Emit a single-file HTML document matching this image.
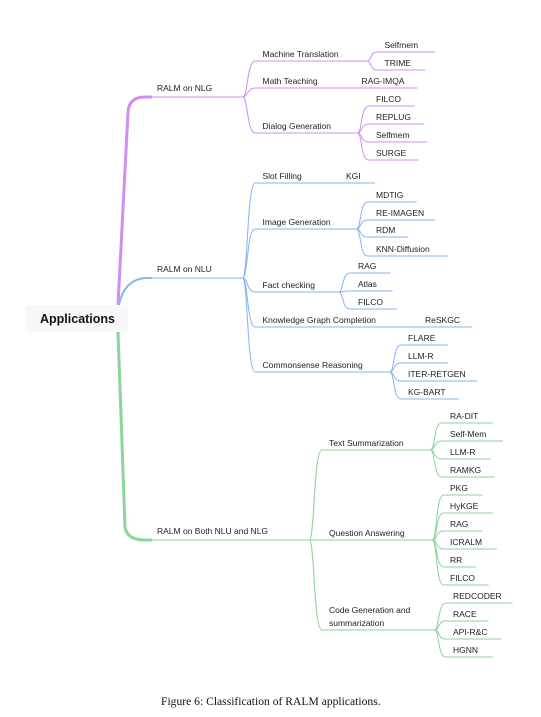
<!DOCTYPE html>
<html><head><meta charset="utf-8"><style>
html,body{margin:0;padding:0;background:#fff;}
svg{display:block;}
text{font-family:"Liberation Sans",sans-serif;font-size:8.5px;fill:#222;}
.p{stroke:#cf8ef0;fill:none;stroke-width:1;}
.b{stroke:#86b6f2;fill:none;stroke-width:1;}
.g{stroke:#8ed39a;fill:none;stroke-width:1;}
</style></head><body>
<svg width="541" height="717" viewBox="0 0 541 717" xmlns="http://www.w3.org/2000/svg">
<!-- root -->
<rect x="25" y="305" width="103" height="27" rx="4" fill="#f8f8fb"/>
<text x="40" y="323" style="font-size:12.5px;font-weight:bold;fill:#111">Applications</text>
<!-- trunks -->
<path d="M118 305 L128 112 Q129 97 145 97 L152 97" stroke="#cf8ef0" stroke-width="3" fill="none"/>
<path d="M119 305 Q124 280 145 278 L152 278" stroke="#86b6f2" stroke-width="2" fill="none"/>
<path d="M118 332 L125 527 Q127 540 145 540 L152 540" stroke="#8ed39a" stroke-width="3" fill="none"/>

<g transform="scale(1.0417,1)">
<path class="p" d="M145 97 H233"/>
<path class="b" d="M145 278 H233"/>
<path class="g" d="M145 540 H297"/>
<g class="p">
<path d="M233 97 C238 97 237 61 245 61 H352"/>
<path d="M233 97 C238 97 237 88 245 88 H401"/>
<path d="M233 97 C238 97 237 133 245 133 H343"/>
<path d="M352 61 C357 61 355 52 362 52 H418"/>
<path d="M352 61 C357 61 355 70 362 70 H408"/>
<path d="M343 133 C348 133 346 106 354 106 H398"/>
<path d="M343 133 C348 133 346 124 354 124 H407"/>
<path d="M343 133 C348 133 346 142 354 142 H410"/>
<path d="M343 133 C348 133 346 160 354 160 H402"/>
</g>
<g class="b">
<path d="M233 278 C238 278 237 183 245 183 H360"/>
<path d="M233 278 C238 278 237 229 245 229 H342"/>
<path d="M233 278 C238 278 237 292 245 292 H325"/>
<path d="M233 278 C238 278 237 327 245 327 H453"/>
<path d="M233 278 C238 278 237 372 245 372 H374"/>
<path d="M342 229 C347 229 345 202 353 202 H400"/>
<path d="M342 229 C347 229 345 220 353 220 H418"/>
<path d="M342 229 C347 229 345 237 353 237 H392"/>
<path d="M342 229 C347 229 345 256 353 256 H430"/>
<path d="M325 292 C330 292 328 273 336 273 H375"/>
<path d="M325 292 C330 292 328 291 336 291 H377"/>
<path d="M325 292 C330 292 328 309 336 309 H381"/>
<path d="M374 372 C379 372 377 345 385 345 H430"/>
<path d="M374 372 C379 372 377 363 385 363 H430"/>
<path d="M374 372 C379 372 377 381 385 381 H458"/>
<path d="M374 372 C379 372 377 399 385 399 H441"/>
</g>
<g class="g">
<path d="M297 540 C302 540 301 450 309 450 H413"/>
<path d="M297 540 C302 540 301 540 309 540 H415"/>
<path d="M297 540 C302 540 301 630 309 630 H417"/>
<path d="M413 450 C418 450 416 423 424 423 H473"/>
<path d="M413 450 C418 450 416 441 424 441 H483"/>
<path d="M413 450 C418 450 416 459 424 459 H471"/>
<path d="M413 450 C418 450 416 477 424 477 H475"/>
<path d="M415 540 C420 540 418 495 426 495 H463"/>
<path d="M415 540 C420 540 418 513 426 513 H473"/>
<path d="M415 540 C420 540 418 531 426 531 H463"/>
<path d="M415 540 C420 540 418 549 426 549 H477"/>
<path d="M415 540 C420 540 418 567 426 567 H457"/>
<path d="M415 540 C420 540 418 585 426 585 H469"/>
<path d="M417 630 C422 630 420 603 428 603 H492"/>
<path d="M417 630 C422 630 420 621 428 621 H469"/>
<path d="M417 630 C422 630 420 639 428 639 H481"/>
<path d="M417 630 C422 630 420 657 428 657 H473"/>
</g>
</g>

<text x="157" y="91">RALM on NLG</text>
<text x="157" y="272">RALM on NLU</text>
<text x="157" y="534">RALM on Both NLU and NLG</text>

<text x="262.5" y="57">Machine Translation</text>
<text x="262.5" y="84">Math Teaching</text>
<text x="361.5" y="84">RAG-IMQA</text>
<text x="262.5" y="129">Dialog Generation</text>
<text x="384.5" y="48">Selfmem</text>
<text x="384.5" y="66">TRIME</text>
<text x="376" y="102">FILCO</text>
<text x="376" y="120">REPLUG</text>
<text x="376" y="138">Selfmem</text>
<text x="376" y="156">SURGE</text>

<text x="262.5" y="179">Slot Filling</text>
<text x="346" y="179">KGI</text>
<text x="262.5" y="225">Image Generation</text>
<text x="262.5" y="288">Fact checking</text>
<text x="262.5" y="323">Knowledge Graph Completion</text>
<text x="425" y="323">ReSKGC</text>
<text x="262.5" y="368">Commonsense Reasoning</text>
<text x="376" y="198">MDTIG</text>
<text x="376" y="216">RE-IMAGEN</text>
<text x="376" y="233">RDM</text>
<text x="376" y="252">KNN-Diffusion</text>
<text x="358" y="269">RAG</text>
<text x="358" y="287">Atlas</text>
<text x="358" y="305">FILCO</text>
<text x="408" y="341">FLARE</text>
<text x="408" y="359">LLM-R</text>
<text x="408" y="377">ITER-RETGEN</text>
<text x="408" y="395">KG-BART</text>

<text x="329" y="446">Text Summarization</text>
<text x="329" y="536">Question Answering</text>
<text x="329" y="613">Code Generation and</text>
<text x="329" y="626">summarization</text>
<text x="450" y="419">RA-DIT</text>
<text x="450" y="437">Self-Mem</text>
<text x="450" y="455">LLM-R</text>
<text x="450" y="473">RAMKG</text>
<text x="450" y="491">PKG</text>
<text x="450" y="509">HyKGE</text>
<text x="450" y="527">RAG</text>
<text x="450" y="545">ICRALM</text>
<text x="450" y="563">RR</text>
<text x="450" y="581">FILCO</text>
<text x="453" y="599">REDCODER</text>
<text x="453" y="617">RACE</text>
<text x="453" y="635">API-R&amp;C</text>
<text x="453" y="653">HGNN</text>

<text x="161" y="705" style="font-family:'Liberation Serif',serif;font-size:11.6px;fill:#111">Figure 6: Classification of RALM applications.</text>
</svg>
</body></html>
